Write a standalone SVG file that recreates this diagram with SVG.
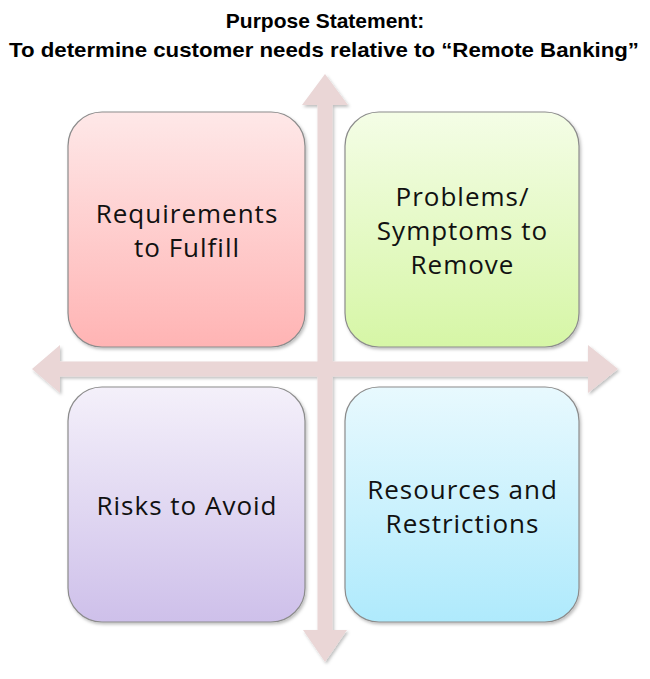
<svg xmlns="http://www.w3.org/2000/svg" width="650" height="679" viewBox="0 0 650 679">
<defs>
<style>
.title{font-family:"Liberation Sans",Arial,sans-serif;font-weight:bold;font-size:21px;fill:#000;text-anchor:middle}
.lbl{font-family:"Open Sans","Liberation Sans",sans-serif;font-size:26px;letter-spacing:1px;fill:#111;text-anchor:middle}
.box{stroke:#8c8c8c;stroke-width:1.2}
.arrow{fill:#ead6d6}
</style>
<linearGradient id="gRed" x1="0" y1="0" x2="0" y2="1"><stop offset="0" stop-color="#fee8e8"/><stop offset="1" stop-color="#ffb4b4"/></linearGradient>
<linearGradient id="gGreen" x1="0" y1="0" x2="0" y2="1"><stop offset="0" stop-color="#f4fde6"/><stop offset="1" stop-color="#d6f6a6"/></linearGradient>
<linearGradient id="gPurple" x1="0" y1="0" x2="0" y2="1"><stop offset="0" stop-color="#f4f0fa"/><stop offset="1" stop-color="#cec0ea"/></linearGradient>
<linearGradient id="gBlue" x1="0" y1="0" x2="0" y2="1"><stop offset="0" stop-color="#e8f9fe"/><stop offset="1" stop-color="#afeafc"/></linearGradient>
<filter id="sh" x="-10%" y="-10%" width="130%" height="130%"><feDropShadow dx="1.5" dy="2" stdDeviation="1.5" flood-color="#000" flood-opacity="0.25"/></filter>
</defs>
<rect width="650" height="679" fill="#fff"/>
<g id="title">
<text class="title" x="325" y="28">Purpose Statement:</text>
<text class="title" x="324" y="57" textLength="630" lengthAdjust="spacingAndGlyphs">To determine customer needs relative to “Remote Banking”</text>
</g>
<g id="connectors" filter="url(#sh)">
<polygon class="arrow" points="325,74 348,105 332.5,105 332.5,630 347,630 325,662 303,630 317.5,630 317.5,105 302,105"/>
<polygon class="arrow" points="32,369 60,345 60,361.5 588,361.5 588,345 618,369 588,393 588,376.5 60,376.5 60,393"/>
</g>
<g id="requirements">
<rect class="box" x="68" y="112" width="237" height="235" rx="34" fill="url(#gRed)" filter="url(#sh)"/>
<text class="lbl" x="187" y="223">Requirements</text>
<text class="lbl" x="187" y="257">to Fulfill</text>
</g>
<g id="problems">
<rect class="box" x="345" y="112" width="234" height="235" rx="34" fill="url(#gGreen)" filter="url(#sh)"/>
<text class="lbl" x="462.5" y="206">Problems/</text>
<text class="lbl" x="462.5" y="240">Symptoms to</text>
<text class="lbl" x="462.5" y="274">Remove</text>
</g>
<g id="risks">
<rect class="box" x="68" y="387" width="237" height="235" rx="34" fill="url(#gPurple)" filter="url(#sh)"/>
<text class="lbl" x="187" y="515">Risks to Avoid</text>
</g>
<g id="resources">
<rect class="box" x="345" y="387" width="234" height="235" rx="34" fill="url(#gBlue)" filter="url(#sh)"/>
<text class="lbl" x="462.5" y="499">Resources and</text>
<text class="lbl" x="462.5" y="533">Restrictions</text>
</g>
</svg>
